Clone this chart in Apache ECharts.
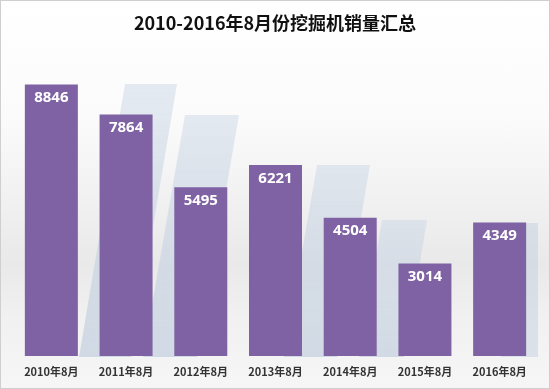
<!DOCTYPE html>
<html>
<head>
<meta charset="utf-8">
<script src="https://cdn.jsdelivr.net/npm/echarts@6/dist/echarts.min.js"></script>
<style>
html,body{margin:0;padding:0;}
#c{width:550px;height:389px;box-sizing:border-box;border:1px solid #cfcfcf;
background:linear-gradient(to bottom,#ffffff 0%,#fbfbfb 30%,#e9e9ea 68%,#f1f1f1 82%,#f6f6f6 100%);}
</style>
</head>
<body>
<div id="c"></div>
<script>
const titleText = '2010-2016年8月份挖掘机销量汇总';
const categories = ['2010年8月','2011年8月','2012年8月','2013年8月','2014年8月','2015年8月','2016年8月'];
const sales = [8846, 7864, 5495, 6221, 4504, 3014, 4349];

const chart = echarts.init(document.getElementById('c'));
const fade = {type:'linear', x:0, y:0, x2:0, y2:1, colorStops:[
  {offset:0, color:'rgba(200,212,228,0.45)'}, {offset:1, color:'rgba(190,204,220,0.65)'}]};
const stripe = (pts) => ({type:'polygon', silent:true, z:0,
  shape:{points:pts}, style:{fill:fade}});
chart.setOption({
  animation:false,
  title:{text:titleText, left:'center', top:8,
    textStyle:{fontSize:18, fontWeight:'bold', color:'#111', fontFamily:'Noto Sans CJK SC'}},
  graphic:[
    stripe([[124,83],[176,83],[130,356],[78,356]]),
    stripe([[184,114],[238,114],[196,356],[142,356]]),
    stripe([[316,164],[369,164],[336,356],[283,356]]),
    stripe([[381,219],[426,219],[403,356],[358,356]]),
    {type:'rect', silent:true, z:0, shape:{x:500,y:222,width:37,height:134}, style:{fill:'rgba(196,208,222,0.5)'}}
  ],
  grid:{left:13, right:12, top:48, bottom:32},
  xAxis:{type:'category', data:categories,
    axisLine:{show:false}, axisTick:{show:false},
    axisLabel:{fontSize:11, fontWeight:'bold', color:'#333', margin:10, fontFamily:'Noto Sans CJK SC'}},
  yAxis:{type:'value', min:0, max:10000, show:false, splitLine:{show:false}},
  series:[{type:'bar', data:sales, barWidth:53,
    itemStyle:{color:'#7f62a3'},
    label:{show:true, position:'insideTop', distance:6, color:'#fff', fontSize:15, fontWeight:'bold', fontFamily:'Noto Sans'}}]
});
</script>
</body>
</html>
